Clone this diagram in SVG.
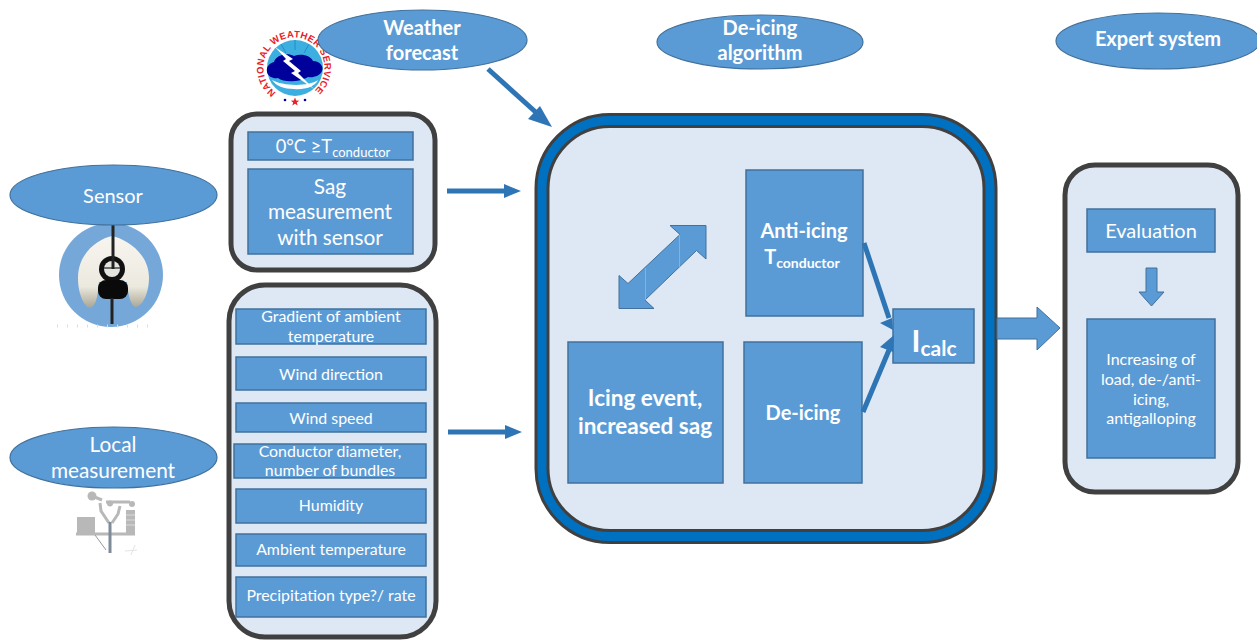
<svg xmlns="http://www.w3.org/2000/svg" width="1257" height="641" viewBox="0 0 1257 641">
<style>
text{font-family:Lato,"Liberation Sans",sans-serif;fill:#fff;text-anchor:middle}
.e{fill:#5b9bd5;stroke:#41719c;stroke-width:1.2}
.b{fill:#5b9bd5;stroke:#41719c;stroke-width:1.5}
.p{fill:#dee8f4;stroke:#404040;stroke-width:5}
.l{stroke:#2e75b6;stroke-width:5;fill:none}
.h{fill:#2e75b6}
.t{font-size:15.900px}
.m{font-size:16px}
.o{font-size:20.800px}
text.n{fill:#e8202a;font-size:9.500px;font-weight:700;font-family:"Liberation Sans",sans-serif;text-anchor:start;letter-spacing:.3px}
.g{fill:#b8b8b8}
</style>
<defs>
<path id="arc" d="M276 92.500A30.500 30.500 0 1 1 312 92.500"/>
<linearGradient id="lobe" x1="0" y1="0" x2="0" y2="1"><stop offset="0" stop-color="#f7f5ef"/><stop offset=".7" stop-color="#ece9df"/><stop offset="1" stop-color="#a9a594"/></linearGradient>
</defs>
<rect width="1257" height="641" fill="#fff"/>

<g id="nws-logo">
<circle cx="295" cy="68" r="28" fill="#3caee0"/>
<path d="M295 40v10M281 44l5 9M309 44l-5 9" stroke="#1b86c0" stroke-width=".8" fill="none"/>
<path d="M267 72c-1-6 3-9 7-10 2-7 13-10 20-6 8-3 17 0 19 5 7 0 11 6 9 10-2 5-9 7-14 6-8 5-24 6-30 1-4 1-10-1-11-6z" fill="#00009a"/>
<path d="M272 80c10 6 36 7 46 0-3 7-14 10-24 9-10 0-18-3-22-9z" fill="#fff"/>
<path d="M275 47l18 12-4 2 12 10-3 2 16 16-23-16 4-2-12-10 3-2z" fill="#fff"/>
<text class="n"><textPath href="#arc">NATIONAL WEATHER SERVICE</textPath></text>
<path d="M295 97.500l1.200 3 3 .2-2.400 1.800.9 3-2.700-1.700-2.700 1.700.9-3-2.400-1.800 3-.2z" fill="#e8202a"/>
<circle cx="285" cy="100" r="1.300" fill="#00009a"/><circle cx="305" cy="100" r="1.300" fill="#00009a"/>
</g>

<g id="weather-forecast"><ellipse class="e" cx="422.500" cy="40" rx="104.500" ry="30"/>
<text x="422" y="35" font-size="20" font-weight="700">Weather</text><text x="422" y="60" font-size="20" font-weight="700">forecast</text></g>
<g id="de-icing-algorithm"><ellipse class="e" cx="760" cy="42" rx="103" ry="27"/>
<text x="760" y="35" font-size="20" font-weight="700">De-icing</text><text x="760" y="60" font-size="20" font-weight="700">algorithm</text></g>
<g id="expert-system"><ellipse class="e" cx="1158" cy="41" rx="102" ry="28"/>
<text x="1158" y="46" font-size="20" font-weight="700">Expert system</text></g>

<g id="sensor"><circle cx="111" cy="275" r="52" fill="#75a8d8"/>
<path d="M57 326h100" stroke="#ddd" stroke-width="3" stroke-dasharray="1 9" fill="none"/>
<path d="M112 236c-14 3-34 17-34 42 0 14 5 28 12 30 7-2 8-16 9-26h28c1 10 3 24 9 25 8-2 13-16 13-29 0-25-23-39-37-42z" fill="url(#lobe)"/>
<circle cx="112" cy="269" r="13" fill="#111"/><circle cx="112" cy="269" r="8" fill="#e5e5e0"/>
<path d="M104 268h16" stroke="#222" stroke-width="1.200"/>
<rect x="98" y="280" width="30" height="19" rx="8" fill="#0a0a0a"/>
<path d="M113 225v44M112 298v26" stroke="#222" stroke-width="3" fill="none"/>
<ellipse class="e" cx="113.500" cy="195" rx="103.500" ry="30"/>
<text x="113" y="203" font-size="20">Sensor</text></g>

<g id="local-measurement">
<rect class="g" x="77" y="517" width="18" height="17"/>
<circle class="g" cx="92" cy="496" r="4.500"/><circle class="g" cx="110" cy="503.500" r="3"/><circle class="g" cx="132" cy="504" r="3"/>
<path d="M92 496l10 4M106 502h24M100 503l1 8 8 12M120 506l-2 8-6 9M76 534h59" stroke="#b8b8b8" stroke-width="3" fill="none"/>
<path class="g" d="M126 510h9v23h-9z"/>
<path d="M126 515h9M126 520h9M126 525h9" stroke="#dadada" stroke-width="1"/>
<path d="M95 535l11 15" stroke="#999" stroke-width="1" fill="none"/>
<path d="M110 522v31" stroke="#7f8a99" stroke-width="3"/>
<path d="M125 551l12-1M135 545l-4 10" stroke="#e4e4e4" stroke-width="1" fill="none"/>
<ellipse class="e" cx="113.500" cy="457.500" rx="103.500" ry="30.500"/>
<text x="113" y="452" class="o">Local</text><text x="113" y="478" class="o">measurement</text></g>

<g id="sensor-panel"><rect class="p" x="231" y="114" width="204" height="156" rx="26"/></g>
<g id="t-conductor"><rect class="b" x="248" y="132" width="165" height="28"/>
<text x="333" y="153" font-size="18.300">0°C ≥T<tspan font-size="13" dy="4">conductor</tspan></text></g>
<g id="sag"><rect class="b" x="248" y="169" width="165" height="85"/>
<text x="330" y="194" class="o">Sag</text><text x="330" y="219" class="o">measurement</text><text x="330" y="245" class="o">with sensor</text></g>

<g id="local-panel"><rect class="p" x="229" y="285" width="207" height="352" rx="36"/></g>
<g id="gradient"><rect class="b" x="236" y="309" width="190" height="35"/><text x="331" y="322" class="t">Gradient of ambient</text><text x="331" y="342" class="t">temperature</text></g>
<g id="wind-direction"><rect class="b" x="236" y="357" width="190" height="33"/><text x="331" y="380" class="t">Wind direction</text></g>
<g id="wind-speed"><rect class="b" x="236" y="403" width="190" height="29"/><text x="331" y="424" class="t">Wind speed</text></g>
<g id="conductor-diameter"><rect class="b" x="234" y="444" width="192" height="34"/><text x="330" y="457" class="t">Conductor diameter,</text><text x="330" y="476" class="t">number of bundles</text></g>
<g id="humidity"><rect class="b" x="236" y="489" width="190" height="34"/><text x="331" y="511" class="t">Humidity</text></g>
<g id="ambient-temperature"><rect class="b" x="236" y="534" width="190" height="32"/><text x="331" y="555" class="t">Ambient temperature</text></g>
<g id="precipitation"><rect class="b" x="236" y="577" width="190" height="40"/><text x="331" y="601" class="t">Precipitation type?/ rate</text></g>

<g id="main-panel"><rect x="542" y="120.500" width="448" height="416" rx="68" fill="#dee8f4" stroke="#404040" stroke-width="15"/>
<rect x="542" y="120.500" width="448" height="416" rx="68" fill="none" stroke="#0070c0" stroke-width="9"/></g>

<g id="anti-icing"><rect class="b" x="746" y="170" width="117" height="146"/>
<text x="804" y="238" font-size="20" font-weight="700">Anti-icing</text>
<text x="802" y="264" font-size="20" font-weight="700">T<tspan font-size="14" dy="4">conductor</tspan></text></g>
<g id="icing-event"><rect class="b" x="568" y="342" width="155" height="141"/>
<text x="645" y="406" font-size="22.500" font-weight="700">Icing event,</text><text x="645" y="434" font-size="22.500" font-weight="700">increased sag</text></g>
<g id="de-icing"><rect class="b" x="744" y="342" width="118" height="141"/>
<text x="803" y="420" font-size="20" font-weight="700">De-icing</text></g>
<g id="i-calc"><rect class="b" x="893" y="309" width="81" height="54"/>
<text x="934" y="352" font-size="30" font-weight="700">I<tspan font-size="21" dy="4">calc</tspan></text></g>

<g id="expert-panel"><rect class="p" x="1065" y="165" width="173" height="327" rx="30"/></g>
<g id="evaluation"><rect class="b" x="1087" y="209" width="128" height="43"/><text x="1151" y="238" font-size="20">Evaluation</text></g>
<g id="increasing"><rect class="b" x="1087" y="319" width="128" height="139"/>
<text x="1151" y="365" class="m">Increasing of</text><text x="1151" y="385" class="m">load, de-/anti-</text><text x="1151" y="405" class="m">icing,</text><text x="1151" y="424" class="m">antigalloping</text></g>

<g id="connectors">
<path class="l" d="M488 69L540 116"/><path class="h" d="M552 127l-24-8 12-13z"/>
<path class="l" d="M447 191H506"/><path class="h" d="M521 191l-17-7v14z"/>
<path class="l" d="M448 432H506"/><path class="h" d="M522 432l-17-7v14z"/>
<path class="l" d="M864 243L889 318"/><path class="h" d="M893 330l-13-7 12-5z"/>
<path class="l" d="M863 412L889 350"/><path class="h" d="M894 335l-14 12 13 5z"/>
<path d="M997 318h40v-11l23 21-23 22v-11h-40z" fill="#5b9bd5" stroke="#41719c"/>
<path d="M1146 268h11v24h7l-12.500 14-12.500-14h7z" fill="#5b9bd5" stroke="#41719c"/>
<path d="M670 225.500h36v33.500l-9.500-8.500-51.500 49.500 9 8.500h-35v-33l9 8 52-49z" fill="#5b9bd5" stroke="#41719c"/>
<path d="M679.500 235v33M645.500 268v32" stroke="#8ab8e2" stroke-width=".8" fill="none"/>
</g>
</svg>
